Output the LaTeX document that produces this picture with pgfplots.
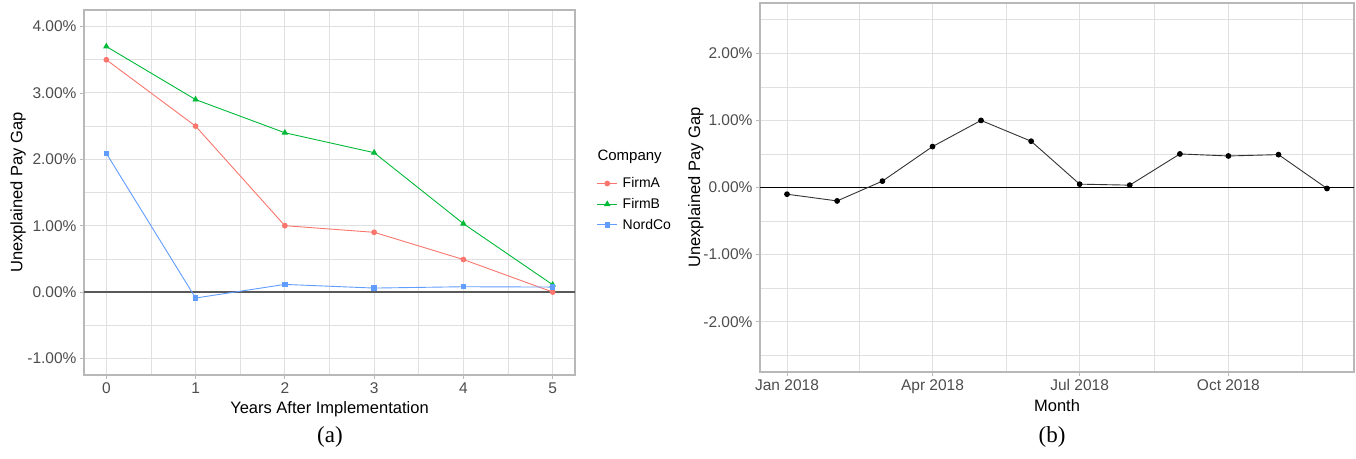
\documentclass[border=0pt]{standalone}
\usepackage{fontspec}
\setmainfont{Liberation Sans}
\newfontfamily\capfont{Liberation Serif}
\usepackage{pgfplots}
\pgfplotsset{compat=1.18}

\definecolor{firmA}{HTML}{F8766D}
\definecolor{firmB}{HTML}{00BA38}
\definecolor{nordco}{HTML}{619CFF}
\definecolor{gridc}{HTML}{E0E0E0}
\definecolor{borderc}{HTML}{B8B8B8}
\definecolor{tickc}{HTML}{4D4D4D}

\pgfplotsset{
  ggp/.style={
    scale only axis,
    axis line style={borderc, line width=1.1pt},
    grid=both,
    major grid style={gridc, line width=1pt},
    minor grid style={gridc, line width=0.7pt},
    tick style={borderc, line width=0.9pt},
    major tick length=4pt,
    minor tick length=0pt,
    tick align=outside,
    tick pos=left,
    ticklabel style={font=\fontsize{15.5}{15.5}\selectfont, text=tickc},
    label style={font=\fontsize{16.5}{16.5}\selectfont},
    /pgf/number format/assume math mode=true,
  },
}

\begin{document}
\begin{tikzpicture}
\path[use as bounding box] (0,0) rectangle (1356pt,458pt);

% Panel (a): pay gap by years after implementation
\begin{axis}[ggp,
  at={(84pt,83pt)}, anchor=south west,
  width=491pt, height=365pt,
  xmin=-0.25, xmax=5.25, ymin=-1.25, ymax=4.25,
  xtick={0,1,2,3,4,5},
  minor xtick={0.5,1.5,2.5,3.5,4.5},
  ytick={-1,0,1,2,3,4},
  yticklabels={-1.00\%,0.00\%,1.00\%,2.00\%,3.00\%,4.00\%},
  minor ytick={-0.5,0.5,1.5,2.5,3.5},
  xlabel={Years After Implementation},
  ylabel={Unexplained Pay Gap},
  xlabel style={at={(axis description cs:0.5,-0.105)}, anchor=base},
  ylabel style={at={(axis description cs:-0.134,0.5)}, anchor=center},
  legend style={at={(axis description cs:1.044,0.468)}, anchor=west,
    draw=none, fill=none, font=\fontsize{14}{14}\selectfont,
    row sep=5pt, inner sep=0pt,
    /tikz/every odd column/.append style={column sep=3pt}},
  legend image code/.code={%
    \draw[mark repeat=2,mark phase=2] plot coordinates {(0pt,0pt) (10pt,0pt) (20pt,0pt)};},
  legend cell align=left,
]
\addplot[forget plot, color=black!65, line width=1.8pt] coordinates {(-0.25,0) (5.25,0)};
\addplot[color=firmA, line width=0.9pt, mark=*, mark size=2.4pt, mark options={fill=firmA, draw=firmA}]
  coordinates {(0,3.5) (1,2.5) (2,1.0) (3,0.9) (4,0.49) (5,0.0)};
\addlegendentry{FirmA}
\addplot[color=firmB, line width=0.9pt, mark=triangle*, mark size=2.9pt, mark options={fill=firmB, draw=firmB}]
  coordinates {(0,3.7) (1,2.9) (2,2.4) (3,2.1) (4,1.03) (5,0.11)};
\addlegendentry{FirmB}
\addplot[color=nordco, line width=0.9pt, mark=square*, mark size=2.2pt, mark options={fill=nordco, draw=nordco}]
  coordinates {(0,2.09) (1,-0.09) (2,0.115) (3,0.06) (4,0.08) (5,0.075)};
\addlegendentry{NordCo}
\end{axis}
\node[anchor=west, font=\fontsize{15}{15}\selectfont] at (594pt,301pt) {Company};
\node[font=\capfont\fontsize{23}{23}\selectfont] at (330pt,21pt) {(a)};

% Panel (b): monthly pay gap in 2018 (x = day of year)
\begin{axis}[ggp,
  at={(760pt,86pt)}, anchor=south west,
  width=594pt, height=369pt,
  xmin=-16.7, xmax=350.7, ymin=-2.75, ymax=2.75,
  xtick={0,90,181,273},
  xticklabels={Jan 2018,Apr 2018,Jul 2018,Oct 2018},
  minor xtick={45,135.5,227,318.5},
  ytick={-2,-1,0,1,2},
  yticklabels={-2.00\%,-1.00\%,0.00\%,1.00\%,2.00\%},
  minor ytick={-2.5,-1.5,-0.5,0.5,1.5,2.5},
  xlabel={Month},
  ylabel={Unexplained Pay Gap},
  xlabel style={at={(axis description cs:0.5,-0.108)}, anchor=base},
  ylabel style={at={(axis description cs:-0.108,0.5)}, anchor=center},
]
\addplot[color=black, line width=1.3pt] coordinates {(-16.7,0) (350.7,0)};
\addplot[color=black!80, line width=0.9pt, mark=*, mark size=2.4pt, mark options={fill=black, draw=black}]
  coordinates {(0,-0.10) (31,-0.20) (59,0.095) (90,0.61) (120,1.0) (151,0.69)
               (181,0.05) (212,0.035) (243,0.50) (273,0.47) (304,0.49) (334,-0.015)};
\end{axis}
\node[font=\capfont\fontsize{23}{23}\selectfont] at (1052pt,21pt) {(b)};
\end{tikzpicture}
\end{document}
